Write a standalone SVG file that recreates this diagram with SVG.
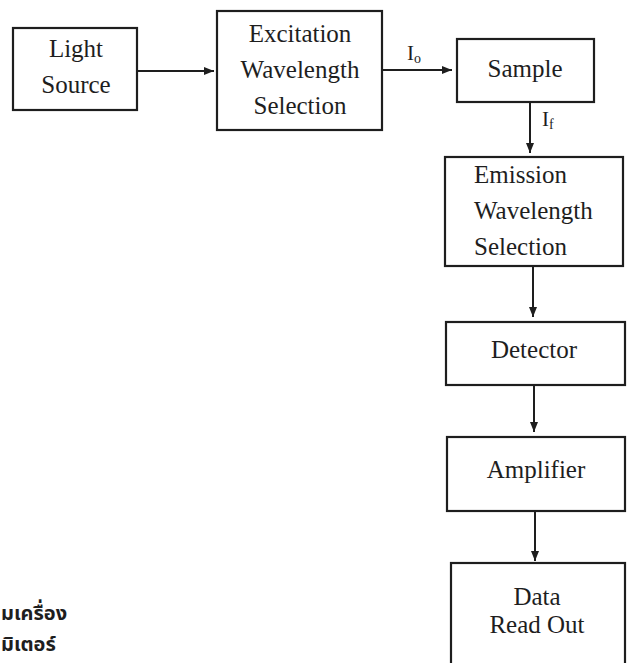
<svg xmlns="http://www.w3.org/2000/svg" width="632" height="663" viewBox="0 0 632 663">
<defs>
<style>
.box{fill:none;stroke:#1e1e1e;stroke-width:2.2}
.t{font-family:"Liberation Serif","Times New Roman",serif;font-size:25px;fill:#1e1e1e}
.c{text-anchor:middle}
.lbl{font-family:"Liberation Serif","Times New Roman",serif;font-size:21px;fill:#1e1e1e}
.sub{font-size:14px}
.th{font-family:"Noto Sans Thai","Noto Sans","DejaVu Sans",sans-serif;font-size:20px;font-weight:bold;fill:#1e1e1e}
.ln{stroke:#1e1e1e;stroke-width:2;fill:none}
</style>
<marker id="ah" viewBox="0 0 10 8" refX="10" refY="4" markerWidth="10" markerHeight="8" markerUnits="userSpaceOnUse" orient="auto">
<path d="M0,0 L10,4 L0,8 Z" fill="#1e1e1e"/>
</marker>
</defs>
<rect width="632" height="663" fill="#ffffff"/>
<g id="light-source">
<rect class="box" x="13" y="28" width="124" height="82"/>
<text class="t c" x="76" y="57">Light</text>
<text class="t c" x="76" y="93">Source</text>
</g>
<g id="excitation">
<rect class="box" x="217" y="11" width="165" height="119"/>
<text class="t c" x="300" y="42">Excitation</text>
<text class="t c" x="300" y="78">Wavelength</text>
<text class="t c" x="300" y="114">Selection</text>
</g>
<g id="sample">
<rect class="box" x="457" y="39" width="137" height="63"/>
<text class="t c" x="525" y="77">Sample</text>
</g>
<g id="emission">
<rect class="box" x="445" y="157" width="178" height="109"/>
<text class="t" x="474" y="183">Emission</text>
<text class="t" x="474" y="219">Wavelength</text>
<text class="t" x="474" y="255">Selection</text>
</g>
<g id="detector">
<rect class="box" x="446" y="322" width="179" height="63"/>
<text class="t c" x="534" y="358">Detector</text>
</g>
<g id="amplifier">
<rect class="box" x="447" y="437" width="178" height="74"/>
<text class="t c" x="536" y="478">Amplifier</text>
</g>
<g id="data-read-out">
<rect class="box" x="451" y="563" width="174" height="110"/>
<text class="t c" x="537" y="605">Data</text>
<text class="t c" x="537" y="633">Read Out</text>
</g>
<g id="connectors">
<line class="ln" x1="137" y1="71" x2="214" y2="71" marker-end="url(#ah)"/>
<line class="ln" x1="382" y1="70" x2="452" y2="70" marker-end="url(#ah)"/>
<line class="ln" x1="530" y1="102" x2="530" y2="153" marker-end="url(#ah)"/>
<line class="ln" x1="533" y1="266" x2="533" y2="317" marker-end="url(#ah)"/>
<line class="ln" x1="534" y1="385" x2="534" y2="432" marker-end="url(#ah)"/>
<line class="ln" x1="535" y1="511" x2="535" y2="561" marker-end="url(#ah)"/>
<text class="lbl" x="407" y="60">I<tspan class="sub" dy="3">o</tspan></text>
<text class="lbl" x="542" y="126">I<tspan class="sub" dy="3">f</tspan></text>
</g>
<g id="caption">
<text class="th" x="1" y="620">มเครื่อง</text>
<text class="th" x="1" y="651">มิเตอร์</text>
</g>
</svg>
